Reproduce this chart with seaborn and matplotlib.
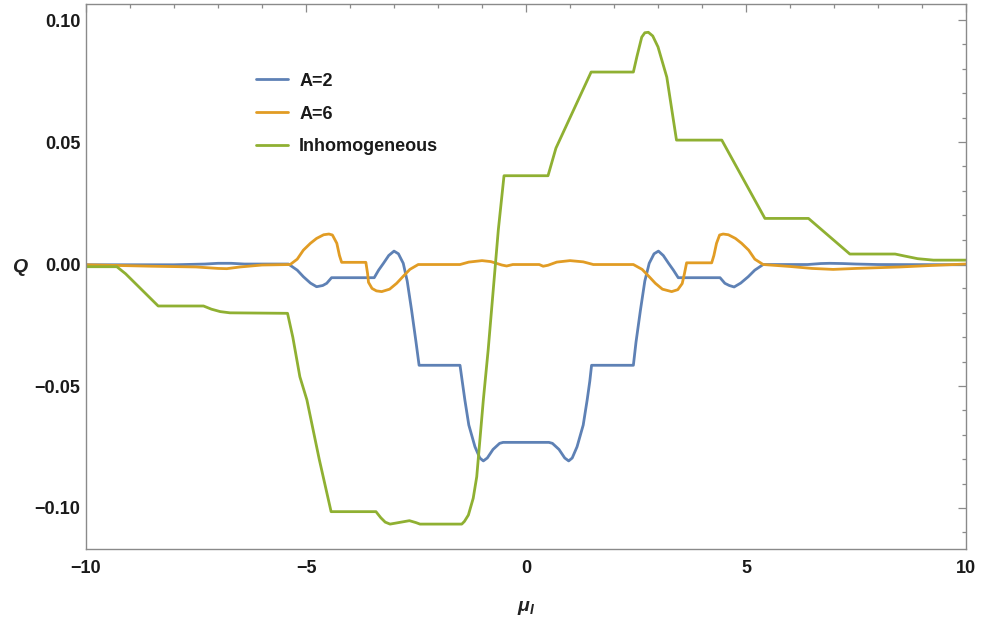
import numpy as np
import pandas as pd
import matplotlib
matplotlib.use("Agg")
import matplotlib.pyplot as plt
import seaborn as sns
from matplotlib.ticker import MultipleLocator

# ---------------- data ----------------
x_a2 = [-10, -8.0, -7.3, -7.0, -6.7, -6.4, -5.4, -5.2, -5.06, -4.9, -4.76, -4.62, -4.53, -4.42,
        -3.45, -3.35, -3.24, -3.12, -3.0, -2.9, -2.79, -2.7, -2.6, -2.5, -2.43,
        -1.5, -1.45, -1.39, -1.3, -1.16, -1.05, -0.97, -0.88, -0.75, -0.6, -0.52,
        0.52, 0.6, 0.75, 0.88, 0.97, 1.05, 1.16, 1.3, 1.39, 1.45, 1.49,
        2.44, 2.5, 2.6, 2.7, 2.8, 2.91, 3.01, 3.12, 3.24, 3.35, 3.46,
        4.41, 4.52, 4.62, 4.73, 4.88, 5.05, 5.2, 5.39, 6.4, 6.7, 6.9, 7.2, 7.5, 8.0, 10]
y_a2 = [-0.0003, -0.0003, 0.0, 0.0003, 0.0003, 0.0, 0.0, -0.0025, -0.0052, -0.0078, -0.0093, -0.0088, -0.0079, -0.0056,
        -0.0056, -0.0025, 0.0003, 0.0035, 0.0053, 0.0042, 0.0003, -0.007, -0.019, -0.032, -0.0415,
        -0.0415, -0.048, -0.0557, -0.066, -0.0749, -0.0795, -0.0807, -0.0795, -0.076, -0.0735, -0.0731,
        -0.0731, -0.0735, -0.076, -0.0795, -0.0807, -0.0795, -0.0749, -0.066, -0.0557, -0.048, -0.0415,
        -0.0415, -0.032, -0.019, -0.007, 0.0003, 0.0042, 0.0053, 0.0035, 0.0003, -0.0025, -0.0056,
        -0.0056, -0.0079, -0.0088, -0.0094, -0.0078, -0.0052, -0.0025, -0.0002, -0.0002, 0.0002, 0.0003, 0.0002, 0.0, -0.0002, -0.0003]

x_a6 = [-10, -8.5, -7.5, -7.0, -6.8, -6.5, -6.0, -5.36, -5.2, -5.06, -4.9, -4.76, -4.6, -4.48, -4.4,
        -4.3, -4.24, -4.19, -3.64, -3.6, -3.58, -3.5, -3.4, -3.28, -3.1, -2.94, -2.8, -2.64, -2.45,
        -1.5, -1.3, -1.0, -0.8, -0.55, -0.44, -0.3, 0.3, 0.39, 0.5, 0.7, 1.0, 1.3, 1.53,
        2.44, 2.64, 2.8, 2.94, 3.1, 3.31, 3.45, 3.55, 3.6, 3.65, 4.22, 4.27, 4.33, 4.4, 4.48, 4.6,
        4.76, 4.9, 5.06, 5.2, 5.39, 6.0, 6.5, 6.98, 7.5, 8.5, 9.2, 10]
y_a6 = [-0.0003, -0.0009, -0.0012, -0.0018, -0.0019, -0.0012, -0.0004, -0.0002, 0.002, 0.0057, 0.0085, 0.0105, 0.0120, 0.0123, 0.0119,
        0.0085, 0.0035, 0.0007, 0.0007, -0.004, -0.0075, -0.0100, -0.0110, -0.0113, -0.0103, -0.0079, -0.0052, -0.0022, -0.0002,
        -0.0002, 0.0008, 0.0014, 0.0010, -0.0004, -0.0008, -0.0002, -0.0002, -0.0009, -0.0005, 0.0008, 0.0014, 0.0009, -0.0002,
        -0.0002, -0.0022, -0.0052, -0.0079, -0.0103, -0.0113, -0.0105, -0.0080, -0.004, 0.0005, 0.0005, 0.0035, 0.0085, 0.0119, 0.0123, 0.0120,
        0.0105, 0.0085, 0.0057, 0.002, -0.0002, -0.0010, -0.0018, -0.0022, -0.0018, -0.0012, -0.0006, 0.0]

x_inh = [-10, -9.3, -9.1, -8.36, -7.33, -7.15, -6.95, -6.73, -5.42, -5.3, -5.14, -4.98, -4.7, -4.43,
         -3.41, -3.3, -3.2, -3.09, -2.9, -2.65, -2.5, -2.41, -1.46, -1.4, -1.31, -1.2, -1.12, -0.97, -0.86,
         -0.63, -0.5, 0.5, 0.68, 1.48, 2.44, 2.52, 2.63, 2.7, 2.78, 2.88, 3.0, 3.2, 3.42,
         4.45, 5.43, 6.42, 7.36, 8.39, 8.6, 8.9, 9.26, 10]
y_inh = [-0.0011, -0.0011, -0.004, -0.0172, -0.0172, -0.0185, -0.0195, -0.0200, -0.0202, -0.030, -0.0462, -0.0557, -0.080, -0.1015,
         -0.1015, -0.104, -0.1058, -0.1066, -0.1060, -0.1052, -0.1060, -0.1066, -0.1066, -0.1055, -0.1029, -0.096, -0.0872, -0.0557, -0.0352,
         0.0139, 0.0362, 0.0362, 0.0475, 0.0787, 0.0787, 0.085, 0.093, 0.0948, 0.0950, 0.0935, 0.089, 0.0766, 0.0508,
         0.0508, 0.0187, 0.0187, 0.0041, 0.0041, 0.0033, 0.0022, 0.0016, 0.0016]

series_names = ["A=2", "A=6", "Inhomogeneous"]
colors = ["#5E81B5", "#E19C24", "#8FB032"]
x_ticks = [-10, -5, 0, 5, 10]
y_ticks = [-0.10, -0.05, 0.00, 0.05, 0.10]

df = pd.concat([
    pd.DataFrame({"mu": x_a2, "Q": y_a2, "series": series_names[0]}),
    pd.DataFrame({"mu": x_a6, "Q": y_a6, "series": series_names[1]}),
    pd.DataFrame({"mu": x_inh, "Q": y_inh, "series": series_names[2]}),
], ignore_index=True)

# ---------------- style ----------------
sns.set_theme(style="white")
plt.rcParams["font.family"] = ["Liberation Sans", "DejaVu Sans"]
plt.rcParams["mathtext.fontset"] = "custom"
plt.rcParams["mathtext.it"] = "Liberation Sans:italic:bold"
plt.rcParams["mathtext.rm"] = "Liberation Sans:bold"
plt.rcParams["mathtext.bf"] = "Liberation Sans:bold"

fig = plt.figure(figsize=(9.81, 6.22), dpi=100)
ax = fig.add_axes([0.0877, 0.1174, 0.8970, 0.8762])

sns.lineplot(data=df, x="mu", y="Q", hue="series", palette=dict(zip(series_names, colors)),
             sort=False, estimator=None, linewidth=2.0, ax=ax)

ax.set_xlim(-10, 10)
ax.set_ylim(-0.1168, 0.1066)
ax.set_xticks(x_ticks)
ax.set_yticks(y_ticks)
ax.set_xticklabels([f"{v:g}".replace("-", "\u2212") for v in x_ticks])
ax.set_yticklabels([f"{v:.2f}".replace("-", "\u2212") for v in y_ticks])
ax.xaxis.set_minor_locator(MultipleLocator(1))
ax.yaxis.set_minor_locator(MultipleLocator(0.01))

frame_col = "#8a8a8a"
for s in ax.spines.values():
    s.set_visible(True)
    s.set_color(frame_col)
    s.set_linewidth(1.0)

ax.tick_params(which="both", direction="in", top=True, right=True, color=frame_col, width=0.9)
ax.tick_params(which="major", length=5.5)
ax.tick_params(which="minor", length=2.8)
ax.tick_params(axis="x", which="major", pad=8, labelsize=13)
ax.tick_params(axis="y", which="major", pad=4, labelsize=13)
for lbl in ax.get_xticklabels() + ax.get_yticklabels():
    lbl.set_fontweight("bold")
    lbl.set_color("#1a1a1a")

ax.set_xlabel(r"$\mu_I$", fontsize=14, color="#222222")
ax.set_ylabel("Q", fontsize=14, fontweight="bold", fontstyle="italic", color="#222222",
              rotation=0)
ax.yaxis.set_label_coords(-0.075, 0.5)
ax.xaxis.set_label_coords(0.5, -0.092)

leg = ax.legend(loc="upper left", bbox_to_anchor=(0.193, 0.874), frameon=False,
                handlelength=1.8, handletextpad=0.6, labelspacing=0.88,
                borderaxespad=0, borderpad=0, prop={"weight": "bold", "size": 13})
for t in leg.get_texts():
    t.set_color("#1a1a1a")

fig.savefig("out.png", dpi=100)
